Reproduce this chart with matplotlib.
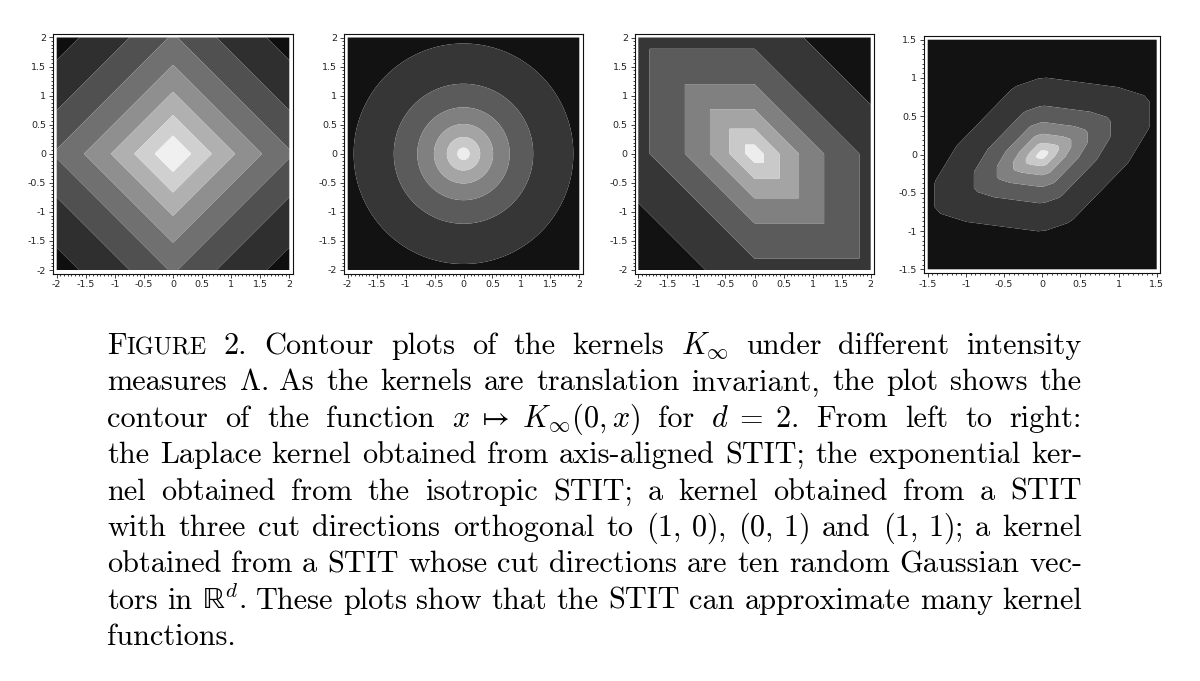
import matplotlib
matplotlib.use("Agg")
import numpy as np
import matplotlib.pyplot as plt
from matplotlib.ticker import MultipleLocator, AutoMinorLocator, FuncFormatter

plt.rcParams["mathtext.fontset"] = "cm"
plt.rcParams["axes.unicode_minus"] = False

W, H = 1200, 681

# contour levels of x -> K(0, x) in each panel
levels_laplace = [0.2, 0.3, 0.4, 0.5, 0.6, 0.7, 0.8, 0.9, 1.0]
levels_iso = [0, 0.15, 0.3, 0.45, 0.6, 0.75, 0.9, 1.05]
levels_three = [0, 0.15, 0.3, 0.45, 0.6, 0.75, 0.9, 1.05]
levels_gauss = [0, 0.15, 0.3, 0.45, 0.6, 0.75, 0.9, 1.05]

# cut directions of the STIT (one row per direction, scaled by its intensity)
dirs_laplace = [[1/3, 0.0], [0.0, 1/3]]
dirs_three = [[1/3, 0.0], [0.0, 1/3], [1/3, 1/3]]
dirs_gauss = [[0.068, -0.255], [-0.055, 0.228], [0.200, -0.410],
              [-0.223, 0.386], [-0.127, 0.143], [0.230, -0.012],
              [-0.215, -0.012], [0.240, 0.090], [-0.208, -0.099],
              [0.026, 0.267]]
iso_rate = 1.0

half_width = [2, 2, 2, 1.5]


def stit_kernel(X, Y, dirs):
    lam = np.zeros_like(X)
    for u, v in dirs:
        lam += np.abs(u * X + v * Y)
    return np.exp(-lam)


def iso_kernel(X, Y):
    return np.exp(-iso_rate * np.hypot(X, Y))


panels = [
    (lambda X, Y: stit_kernel(X, Y, dirs_laplace), levels_laplace),
    (iso_kernel, levels_iso),
    (lambda X, Y: stit_kernel(X, Y, dirs_three), levels_three),
    (lambda X, Y: stit_kernel(X, Y, dirs_gauss), levels_gauss),
]

# pixel boxes of the plotted square (x0, x1, y0, y1)
boxes = [(56.7, 289.3, 37.5, 270.0), (347.7, 579.3, 37.5, 270.0),
         (638.3, 870.7, 37.5, 270.0), (927.7, 1156.7, 39.7, 269.3)]
pad = 3.5

fig = plt.figure(figsize=(W / 100, H / 100), dpi=100)


def fmt(v, pos):
    v = round(v, 6)
    if abs(v) < 1e-9:
        v = 0.0
    return "%g" % v


for (func, levels), hw, (x0, x1, y0, y1) in zip(panels, half_width, boxes):
    ax = fig.add_axes([(x0 - pad) / W, 1 - (y1 + pad) / H,
                       (x1 - x0 + 2 * pad) / W, (y1 - y0 + 2 * pad) / H])
    g = np.linspace(-hw, hw, 300)
    X, Y = np.meshgrid(g, g)
    ax.contourf(X, Y, func(X, Y), levels=levels, cmap="gray",
                antialiased=True)
    ppu = (x1 - x0) / (2 * hw)
    ax.set_xlim(-hw - pad / ppu, hw + pad / ppu)
    ax.set_ylim(-hw - pad / ppu, hw + pad / ppu)
    for a in (ax.xaxis, ax.yaxis):
        a.set_major_locator(MultipleLocator(0.5))
        a.set_minor_locator(AutoMinorLocator(8))
        a.set_major_formatter(FuncFormatter(fmt))
    ax.tick_params(which="both", direction="out", top=False, right=False,
                   width=0.6, colors="#222222", labelsize=6.8, pad=2)
    ax.tick_params(which="major", length=3)
    ax.tick_params(which="minor", length=1.5)
    for s in ax.spines.values():
        s.set_linewidth(0.8)
        s.set_color("#111111")

# caption, justified line by line
caption_lines = [
    [(("F", 1.0), ("IGURE", 0.8)), "2.", "Contour", "plots", "of", "the",
     "kernels", r"$K_\infty$", "under", "different", "intensity"],
    ["measures", r"$\Lambda$.", "As", "the", "kernels", "are", "translation",
     "invariant,", "the", "plot", "shows", "the"],
    ["contour", "of", "the", "function", r"$x\;\mapsto\;K_\infty(0,x)$",
     "for", r"$d\;=\;2$.", "From", "left", "to", "right:"],
    ["the", "Laplace", "kernel", "obtained", "from", "axis-aligned", "STIT;",
     "the", "exponential", "ker-"],
    ["nel", "obtained", "from", "the", "isotropic", "STIT;", "a", "kernel",
     "obtained", "from", "a", "STIT"],
    ["with", "three", "cut", "directions", "orthogonal", "to", r"$(1,\,0)$,",
     r"$(0,\,1)$", "and", r"$(1,\,1)$;", "a", "kernel"],
    ["obtained", "from", "a", "STIT", "whose", "cut", "directions", "are",
     "ten", "random", "Gaussian", "vec-"],
    ["tors", "in", r"$\mathrm{\mathbb{R}}^d$.", "These", "plots", "show",
     "that", "the", "STIT", "can", "approximate", "many", "kernel"],
    ["functions."],
]

fs = 21.8
left, right = 107.0, 1082.0
base0, lead = 354.0, 36.4
space = 0.333 * fs * 100 / 72
renderer = fig.canvas.get_renderer()

for i, words in enumerate(caption_lines):
    groups = []
    for w in words:
        pieces = w if isinstance(w, tuple) else ((w, 1.0),)
        items = []
        for s, sc in pieces:
            t = fig.text(0, 0, s, fontsize=fs * sc, family="cmr10",
                         ha="left", va="baseline", color="black")
            items.append((t, t.get_window_extent(renderer).width))
        groups.append(items)
    total = sum(wd for items in groups for _, wd in items)
    if i < len(caption_lines) - 1 and len(groups) > 1:
        gap = (right - left - total) / (len(groups) - 1)
    else:
        gap = space
    x = left
    y = base0 + i * lead
    for items in groups:
        for t, wd in items:
            t.set_position((x / W, 1 - y / H))
            x += wd
        x += gap

fig.savefig("out.png", dpi=100)
